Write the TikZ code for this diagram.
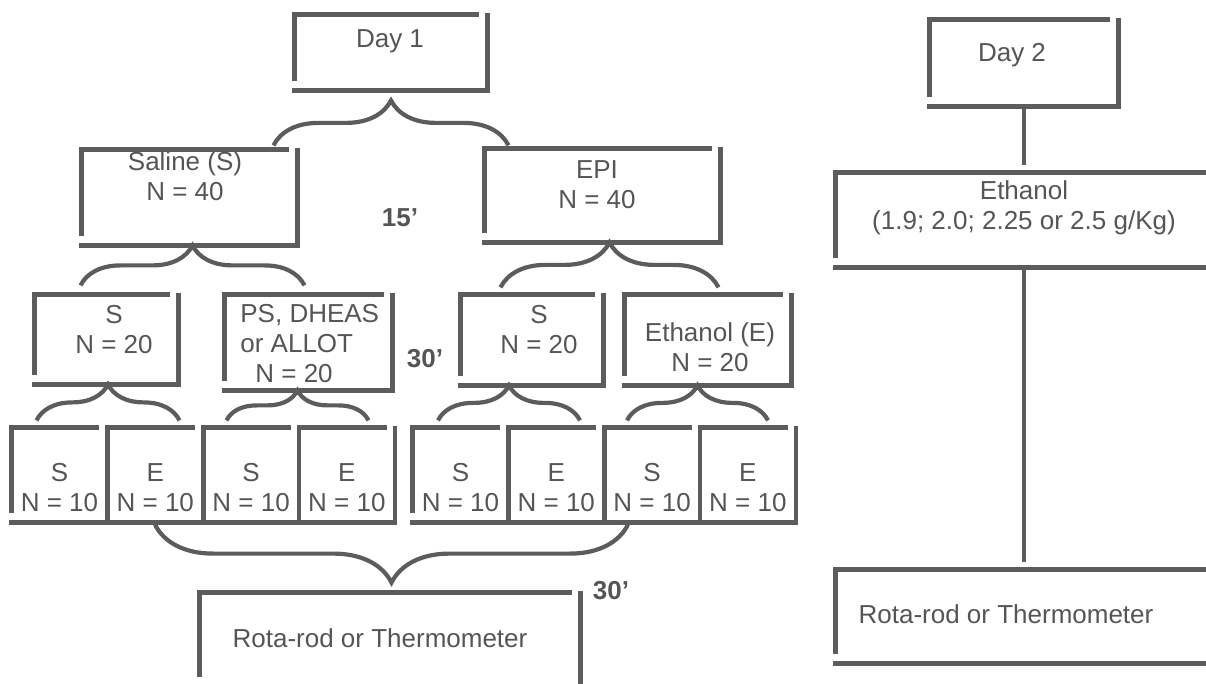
\documentclass[tikz,border=0pt]{standalone}
\usepackage{fontspec}
\setmainfont{Liberation Sans}
\usetikzlibrary{positioning}
\usetikzlibrary{decorations.pathreplacing}
\definecolor{RimGray}{HTML}{5C5C5C}
\definecolor{TextGray}{HTML}{555555}
\tikzset{
  box/.style={rectangle, inner sep=0pt},
  cell/.style={box, minimum width=47.5pt, minimum height=47pt},
  rim/.style={draw=RimGray, line width=2.3pt},
  brc/.style={draw=RimGray, line width=2.1pt, decorate,
    decoration={brace, amplitude=#1}},
  txt/.style={inner sep=0pt, text=TextGray, align=center,
    font=\fontsize{13}{15}\selectfont},
  mins/.style={inner sep=0pt, text=TextGray,
    font=\fontsize{13}{15}\selectfont\bfseries}
}

\begin{document}
\begin{tikzpicture}[x=0.5pt,y=-0.5pt]
  \useasboundingbox (0,0) rectangle (1206,684);
  \clip (0,0) rectangle (1206,684);

  % day 1 tree
  \node[box, minimum width=96pt, minimum height=37.5pt] (day1) at (391,52.5) {};
  \node[box, minimum width=107.5pt, minimum height=47.5pt] (sal) at (189.5,197.5) {};
  \node[box, minimum width=117.5pt, minimum height=46.5pt] (epi) at (602.5,195.5) {};
  \node[box, minimum width=71.5pt, minimum height=44.5pt] (s20) at (106.5,339.5) {};
  \node[box, minimum width=83.5pt, minimum height=47.5pt] (ps) at (308.5,342.5) {};
  \node[box, minimum width=71pt, minimum height=45pt] (s20r) at (532,340) {};
  \node[box, minimum width=83pt, minimum height=45pt] (e20) at (708,340) {};

  \node[cell] (c1) at (59.5,475) {};
  \node[cell] (c2) [right=0pt of c1] {};
  \node[cell] (c3) [right=0pt of c2] {};
  \node[cell] (c4) [right=0pt of c3] {};
  \node[cell] (c5) at (460.5,475) {};
  \node[cell] (c6) [right=0pt of c5] {};
  \node[cell] (c7) [right=0pt of c6] {};
  \node[cell] (c8) [right=0pt of c7] {};

  \node[box, minimum width=190pt, minimum height=46.5pt] (rota) at (390,639.5) {};

  % day 2 column
  \node[box, minimum width=94pt, minimum height=43pt] (day2) at (1024,63) {};
  \node[box, minimum width=197pt, minimum height=47pt] (eth2) at (1033,220) {};
  \node[box, minimum width=197pt, minimum height=46.5pt] (rota2) at (1033,616.5) {};

  % broken frames
  \foreach \b in {day1,sal,epi,s20,ps,s20r,e20,c1,c2,c3,c4,c5,c6,c7,c8,rota,day2,eth2,rota2}
    \draw[rim] ([yshift=4.5pt]\b.south west) -- (\b.north west) -- ([xshift=-4pt]\b.north east)
               ([yshift=1pt]\b.north east) -- (\b.south east) -- ([xshift=-1.15pt]\b.south west);

  % texts
  \node[txt] (day1-t) at (390,41) {Day 1};
  \node[txt] (sal-t) at (185,176) {Saline (S)\\N = 40};
  \node[txt] (epi-t) at (597,185) {EPI\\N = 40};
  \node[txt] (s20-t) at (114,330) {S\\N = 20};
  \node[txt, align=left, anchor=west] (ps-t) at (240,344) {PS, DHEAS\\or ALLOT\\\hspace*{7.5pt}N = 20};
  \node[txt] (s20r-t) at (539,330) {S\\N = 20};
  \node[txt] (e20-t) at (710,347) {Ethanol (E)\\N = 20};
  \foreach \c/\g in {c1/S,c2/E,c3/S,c4/E,c5/S,c6/E,c7/S,c8/E}
    \node[txt] (\c-t) at ([yshift=-6.5pt]\c.center) {\g\\N = 10};
  \node[txt] (rota-t) at (380,638) {Rota-rod or Thermometer};
  \node[txt] (day2-t) at (1012,55) {Day 2};
  \node[txt] (eth2-t) at (1024,208) {Ethanol\\(1.9; 2.0; 2.25 or 2.5 g/Kg)};
  \node[txt] (rota2-t) at (1006,614) {Rota-rod or Thermometer};

  \node[mins] (m15) at (400,217.5) {15’};
  \node[mins] (m30a) at (425,359) {30’};
  \node[mins] (m30b) at (611,591) {30’};

  % braces
  \draw[brc=22.5pt] ([xshift=-58.75pt,yshift=-27.5pt]day1.south) -- ([xshift=58.75pt,yshift=-27.5pt]day1.south);
  \draw[brc=20pt] ([xshift=-54.5pt,yshift=-20pt]sal.south) -- ([xshift=57.5pt,yshift=-20pt]sal.south);
  \draw[brc=22.5pt] ([xshift=-51pt,yshift=-22.5pt]epi.south) -- ([xshift=58pt,yshift=-22.5pt]epi.south);
  \draw[brc=18pt] ([xshift=-35pt,yshift=-18pt]s20.south) -- ([xshift=36.5pt,yshift=-18pt]s20.south);
  \draw[brc=15pt] ([xshift=-41pt,yshift=-15pt]ps.south) -- ([xshift=30pt,yshift=-15pt]ps.south);
  \draw[brc=17.5pt] ([xshift=-47pt,yshift=-17.5pt]s20r.south) -- ([xshift=24pt,yshift=-17.5pt]s20r.south);
  \draw[brc=17.5pt] ([xshift=-40.5pt,yshift=-17.5pt]e20.south) -- ([xshift=30pt,yshift=-17.5pt]e20.south);
  \draw[brc=29pt] ([xshift=119pt,yshift=34pt]rota.north) -- ([xshift=-117.5pt,yshift=34pt]rota.north);

  % day 2 links
  \draw[rim] (day2.south) -- ([yshift=4pt]day2.south |- eth2.north);
  \draw[rim] (eth2.south -| day2.south) -- ([yshift=4pt]rota2.north -| day2.south);

\end{tikzpicture}
\end{document}
